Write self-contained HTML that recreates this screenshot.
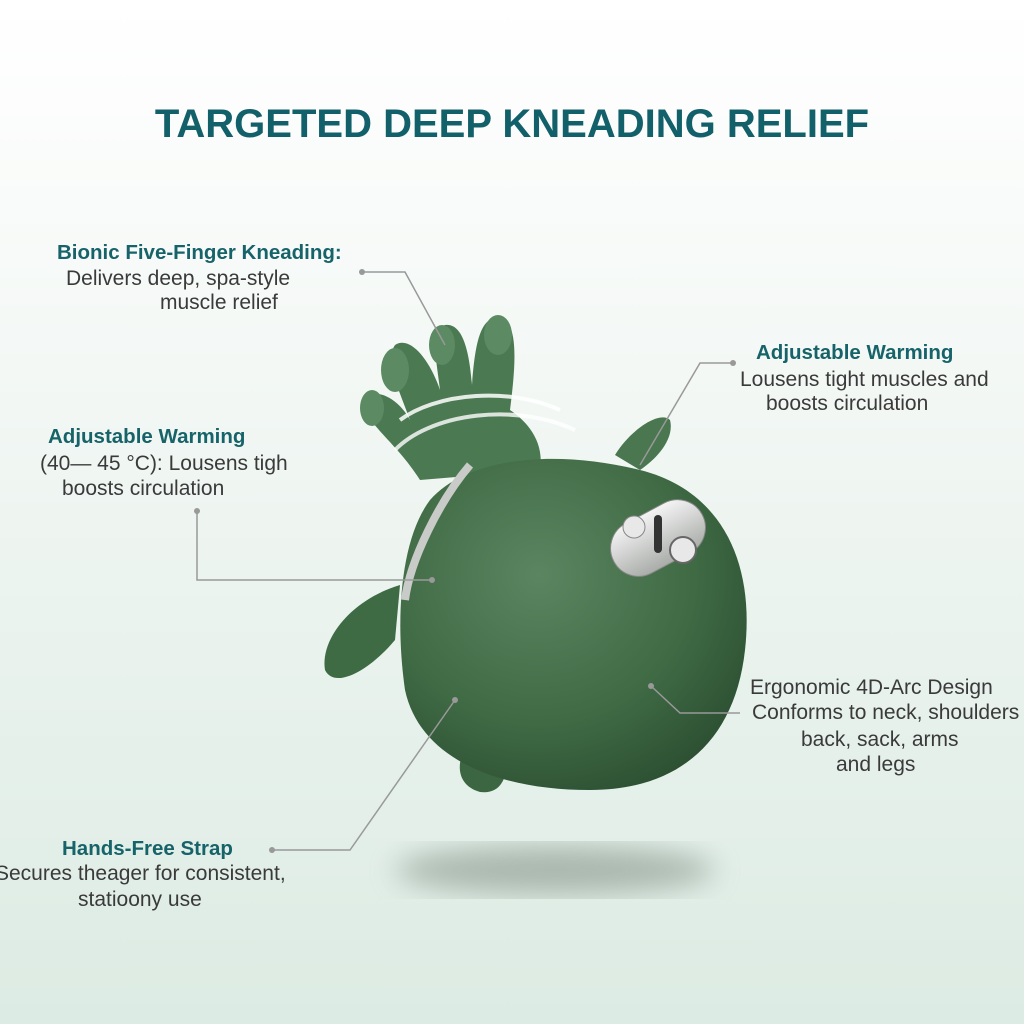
<!DOCTYPE html>
<html><head><meta charset="utf-8"><style>
html,body{margin:0;padding:0}
body{width:1024px;height:1024px;overflow:hidden;position:relative;background:linear-gradient(#ffffff 0%,#f7faf8 25%,#e9f2ed 65%,#dcebe3 100%);font-family:"Liberation Sans",sans-serif}
.t{position:absolute;white-space:nowrap;font-size:21px;color:#3a3a3a;line-height:24px}
.b{font-weight:bold;color:#17636a;font-size:20.5px}
h1{position:absolute;top:102px;left:0;width:1024px;text-align:center;margin:0;font-size:40px;font-weight:900;color:#12606a;letter-spacing:0px}
svg{position:absolute;left:0;top:0}
</style></head><body>
<svg width="1024" height="1024" viewBox="0 0 1024 1024">
<defs>
<filter id="bl"><feGaussianBlur stdDeviation="14"/></filter>
<radialGradient id="g1" cx="0.4" cy="0.35" r="0.75"><stop offset="0" stop-color="#5a8560"/><stop offset="0.6" stop-color="#3f6a44"/><stop offset="1" stop-color="#2a4c30"/></radialGradient>
<linearGradient id="sv" x1="0" y1="0" x2="0" y2="1"><stop offset="0" stop-color="#f4f4f4"/><stop offset="1" stop-color="#a9aca9"/></linearGradient>
</defs>
<ellipse cx="555" cy="870" rx="160" ry="24" fill="#7a8a80" opacity="0.55" filter="url(#bl)"/>
<path d="M400 585 C350 600 320 640 325 670 C335 690 370 670 395 640 Z" fill="#3e6a44"/>
<path d="M470 740 C455 760 455 785 480 792 C505 795 510 770 505 745 Z" fill="#3b6641"/>
<path d="M615 455 C630 430 660 410 670 420 C675 440 655 460 640 470 Z" fill="#4a7650"/>
<path d="M420 480 C395 440 360 420 365 400 C375 385 400 400 410 420 C395 380 385 360 395 345 C410 335 430 360 440 390 C435 350 430 330 445 325 C465 322 470 360 472 385 C475 345 480 315 500 318 C520 322 515 370 510 410 C525 420 545 440 540 470 Z" fill="#4b7a52"/>
<ellipse cx="395" cy="370" rx="14" ry="22" fill="#5c8a62"/>
<ellipse cx="442" cy="345" rx="13" ry="20" fill="#5c8a62"/>
<ellipse cx="498" cy="335" rx="14" ry="20" fill="#5c8a62"/>
<ellipse cx="372" cy="408" rx="12" ry="18" fill="#5c8a62"/>
<path d="M400 420 A110 60 0 0 1 560 410" stroke="#fff" stroke-width="4" fill="none" opacity="0.85"/>
<path d="M395 450 A120 70 0 0 1 575 430" stroke="#fff" stroke-width="4" fill="none" opacity="0.8"/>
<path d="M430 500 C470 455 560 450 640 470 C720 490 755 560 745 650 C735 740 680 790 590 790 C500 790 420 760 405 690 C395 620 400 540 430 500 Z" fill="url(#g1)"/>
<path d="M470 465 C440 500 410 560 405 600" stroke="#c9cbc8" stroke-width="8" fill="none"/>
<rect x="608" y="510" width="100" height="56" rx="28" transform="rotate(-28 658 538)" fill="url(#sv)" stroke="#888" stroke-width="1"/>
<circle cx="634" cy="527" r="11" fill="#e8e8e8" stroke="#888"/>
<rect x="654" y="515" width="8" height="38" rx="4" fill="#333"/>
<circle cx="683" cy="550" r="13" fill="#e8e8e8" stroke="#666" stroke-width="2"/>
<g stroke="#999" stroke-width="1.5" fill="none">
<path d="M362 272 H405 L445 345"/>
<path d="M733 363 H700 L640 465"/>
<path d="M197 511 V580 H432"/>
<path d="M651 686 L680 713 H740"/>
<path d="M272 850 H350 L455 700"/>
</g>
<g fill="#999"><circle cx="362" cy="272" r="3"/><circle cx="733" cy="363" r="3"/><circle cx="197" cy="511" r="3"/><circle cx="651" cy="686" r="3"/><circle cx="272" cy="850" r="3"/><circle cx="455" cy="700" r="3"/><circle cx="432" cy="580" r="3"/></g>
</svg>
<h1>TARGETED DEEP KNEADING RELIEF</h1>
<div class="t b" style="left:57px;top:241px">Bionic Five-Finger Kneading:</div>
<div class="t" style="left:66px;top:267px">Delivers deep, spa-style</div>
<div class="t" style="left:160px;top:291px">muscle relief</div>
<div class="t b" style="left:756px;top:341px">Adjustable Warming</div>
<div class="t" style="left:740px;top:368px">Lousens tight muscles and</div>
<div class="t" style="left:766px;top:392px">boosts circulation</div>
<div class="t b" style="left:48px;top:425px">Adjustable Warming</div>
<div class="t" style="left:40px;top:452px">(40— 45 °C): Lousens tigh</div>
<div class="t" style="left:62px;top:477px">boosts circulation</div>
<div class="t" style="left:750px;top:676px">Ergonomic 4D-Arc Design</div>
<div class="t" style="left:752px;top:701px">Conforms to neck, shoulders</div>
<div class="t" style="left:801px;top:728px">back, sack, arms</div>
<div class="t" style="left:836px;top:753px">and legs</div>
<div class="t b" style="left:62px;top:837px">Hands-Free Strap</div>
<div class="t" style="left:-5px;top:862px">Secures theager for consistent,</div>
<div class="t" style="left:78px;top:888px">statioony use</div>
</body></html>
